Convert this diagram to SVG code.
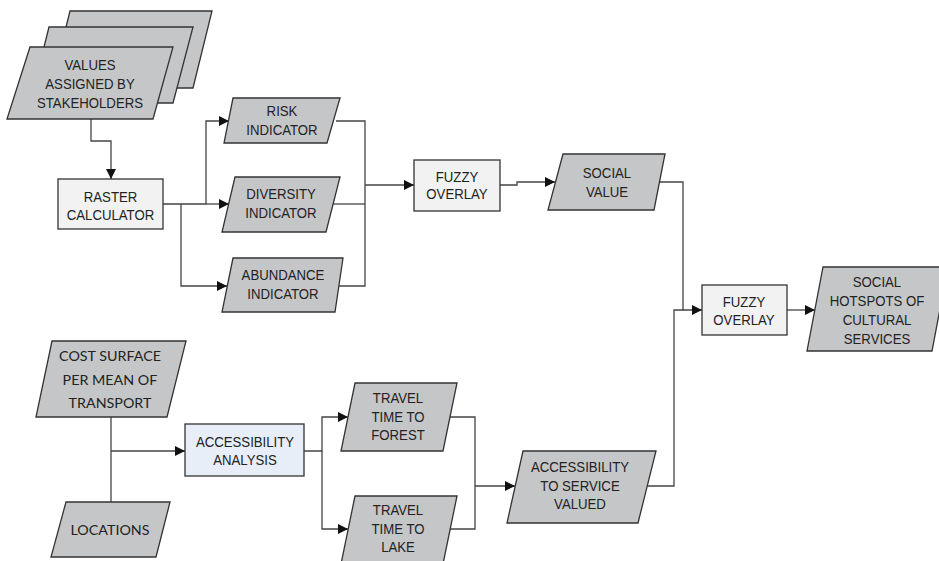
<svg xmlns="http://www.w3.org/2000/svg" width="939" height="561" viewBox="0 0 939 561">
  <defs>
    <marker id="arrow" markerUnits="userSpaceOnUse" markerWidth="10" markerHeight="10" refX="10" refY="5" orient="auto">
      <path d="M0,0 L10,5 L0,10 z" fill="#111"/>
    </marker>
    <style>
      .data { fill: #c5c6c8; stroke: #333; stroke-width: 1.3; }
      .proc { fill: #f1f2f1; stroke: #333; stroke-width: 1.3; }
      .proc-blue { fill: #e7eef8; stroke: #333; stroke-width: 1.3; }
      .wire { fill: none; stroke: #444; stroke-width: 1.3; }
      .lbl { font-family: "Liberation Sans", Arial, sans-serif; font-size: 15px; fill: #222; text-anchor: middle; }
      .lbl2 { font-family: Lato, "Liberation Sans", sans-serif; font-size: 14.3px; fill: #222; text-anchor: middle; }
    </style>
  </defs>
  <rect width="939" height="561" fill="#fff"/>

  <!-- connectors -->
  <g id="connectors">
    <path class="wire" d="M91,119 V141 H111 V179" marker-end="url(#arrow)"/>
    <path class="wire" d="M163,204 H206 V121 H229" marker-end="url(#arrow)"/>
    <path class="wire" d="M206,204 H229" marker-end="url(#arrow)"/>
    <path class="wire" d="M181,204 V286 H227" marker-end="url(#arrow)"/>
    <path class="wire" d="M336,121 H365 V286 H339"/>
    <path class="wire" d="M333,204 H365"/>
    <path class="wire" d="M365,185 H414" marker-end="url(#arrow)"/>
    <path class="wire" d="M500,185 H517 V182 H555" marker-end="url(#arrow)"/>
    <path class="wire" d="M659,182 H683 V310 H702" marker-end="url(#arrow)"/>
    <path class="wire" d="M786,310 H815" marker-end="url(#arrow)"/>
    <path class="wire" d="M111,417 V502"/>
    <path class="wire" d="M111,451 H185" marker-end="url(#arrow)"/>
    <path class="wire" d="M304,451 H322 V417 H348" marker-end="url(#arrow)"/>
    <path class="wire" d="M322,451 V529 H348" marker-end="url(#arrow)"/>
    <path class="wire" d="M450,417 H475 V529 H450"/>
    <path class="wire" d="M475,486 H515" marker-end="url(#arrow)"/>
    <path class="wire" d="M647,486 H674 V310 H683"/>
  </g>

  <!-- stacked input layers -->
  <g id="values-stakeholders">
    <polygon class="data" points="70,11 212,11 193,88 51,88"/>
    <polygon class="data" points="49,27 193,27 173,103 30,103"/>
    <polygon class="data" points="30,47 173,47 153,119 7,119"/>
    <text class="lbl" transform="translate(90,70) scale(0.88,1)">VALUES</text>
    <text class="lbl" transform="translate(90,89) scale(0.88,1)">ASSIGNED BY</text>
    <text class="lbl" transform="translate(90,108) scale(0.88,1)">STAKEHOLDERS</text>
  </g>

  <g id="raster-calculator">
    <rect class="proc" x="58" y="179" width="105" height="50"/>
    <text class="lbl" transform="translate(110.5,202) scale(0.88,1)">RASTER</text>
    <text class="lbl" transform="translate(110.5,220) scale(0.88,1)">CALCULATOR</text>
  </g>

  <g id="risk-indicator">
    <polygon class="data" points="233,98 340,98 327,143 224,143"/>
    <text class="lbl" transform="translate(282,116) scale(0.88,1)">RISK</text>
    <text class="lbl" transform="translate(282,135) scale(0.88,1)">INDICATOR</text>
  </g>

  <g id="diversity-indicator">
    <polygon class="data" points="235,177 340,177 326,232 222,232"/>
    <text class="lbl" transform="translate(281,199) scale(0.88,1)">DIVERSITY</text>
    <text class="lbl" transform="translate(281,218) scale(0.88,1)">INDICATOR</text>
  </g>

  <g id="abundance-indicator">
    <polygon class="data" points="233,258 343,258 335,312 222,312"/>
    <text class="lbl" transform="translate(283,280) scale(0.88,1)">ABUNDANCE</text>
    <text class="lbl" transform="translate(283,299) scale(0.88,1)">INDICATOR</text>
  </g>

  <g id="fuzzy-overlay-1">
    <rect class="proc" x="414" y="160" width="86" height="51"/>
    <text class="lbl" transform="translate(457,182) scale(0.88,1)">FUZZY</text>
    <text class="lbl" transform="translate(457,199) scale(0.88,1)">OVERLAY</text>
  </g>

  <g id="social-value">
    <polygon class="data" points="563,154 665,154 654,210 548,210"/>
    <text class="lbl" transform="translate(607,178) scale(0.88,1)">SOCIAL</text>
    <text class="lbl" transform="translate(607,197) scale(0.88,1)">VALUE</text>
  </g>

  <g id="fuzzy-overlay-2">
    <rect class="proc" x="702" y="285" width="85" height="50"/>
    <text class="lbl" transform="translate(744,307) scale(0.88,1)">FUZZY</text>
    <text class="lbl" transform="translate(744,325) scale(0.88,1)">OVERLAY</text>
  </g>

  <g id="social-hotspots">
    <polygon class="data" points="823,267 948,267 932,351 807,351"/>
    <text class="lbl" transform="translate(877,287) scale(0.88,1)">SOCIAL</text>
    <text class="lbl" transform="translate(877,306) scale(0.88,1)">HOTSPOTS OF</text>
    <text class="lbl" transform="translate(877,325) scale(0.88,1)">CULTURAL</text>
    <text class="lbl" transform="translate(877,344) scale(0.88,1)">SERVICES</text>
  </g>

  <g id="cost-surface">
    <polygon class="data" points="52,341 186,341 167,417 36,417"/>
    <text class="lbl2" x="110" y="361">COST SURFACE</text>
    <text class="lbl2" x="110" y="385">PER MEAN OF</text>
    <text class="lbl2" x="110" y="408">TRANSPORT</text>
  </g>

  <g id="locations">
    <polygon class="data" points="66,502 170,502 156,557 51,557"/>
    <text class="lbl2" x="110" y="535">LOCATIONS</text>
  </g>

  <g id="accessibility-analysis">
    <rect class="proc-blue" x="185" y="424" width="119" height="52"/>
    <text class="lbl" transform="translate(245,447) scale(0.88,1)">ACCESSIBILITY</text>
    <text class="lbl" transform="translate(245,465) scale(0.88,1)">ANALYSIS</text>
  </g>

  <g id="travel-forest">
    <polygon class="data" points="355,383 457,383 443,451 341,451"/>
    <text class="lbl" transform="translate(398,403) scale(0.88,1)">TRAVEL</text>
    <text class="lbl" transform="translate(398,422) scale(0.88,1)">TIME TO</text>
    <text class="lbl" transform="translate(398,440) scale(0.88,1)">FOREST</text>
  </g>

  <g id="travel-lake">
    <polygon class="data" points="355,496 457,496 443,564 341,564"/>
    <text class="lbl" transform="translate(398,515) scale(0.88,1)">TRAVEL</text>
    <text class="lbl" transform="translate(398,534) scale(0.88,1)">TIME TO</text>
    <text class="lbl" transform="translate(398,552) scale(0.88,1)">LAKE</text>
  </g>

  <g id="accessibility-valued">
    <polygon class="data" points="523,451 656,451 638,523 507,523"/>
    <text class="lbl" transform="translate(580,472) scale(0.88,1)">ACCESSIBILITY</text>
    <text class="lbl" transform="translate(580,491) scale(0.88,1)">TO SERVICE</text>
    <text class="lbl" transform="translate(580,509) scale(0.88,1)">VALUED</text>
  </g>
</svg>
